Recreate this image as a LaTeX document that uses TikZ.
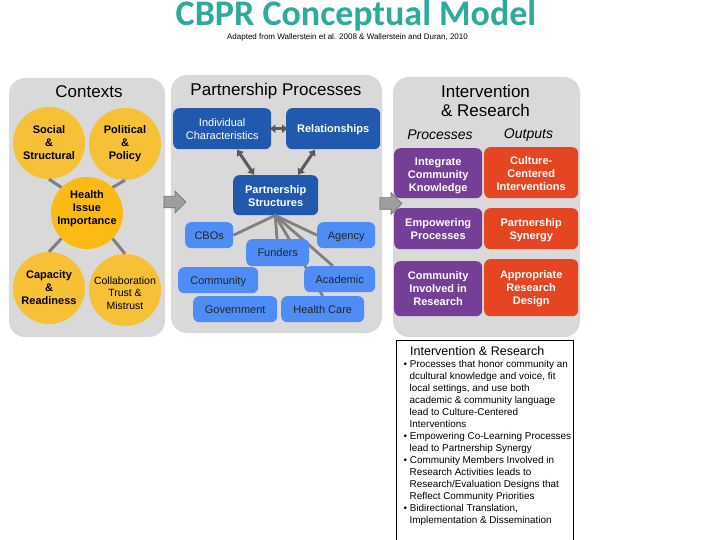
\documentclass[tikz,border=0pt]{standalone}
\usepackage{fontspec}
\setmainfont{Liberation Sans}
\newfontfamily\titlefont{Carlito}
\usetikzlibrary{calc,shapes.arrows,arrows.meta}
\definecolor{panelgrey}{HTML}{D9D9D9}
\definecolor{ctxyellow}{HTML}{F6C136}
\definecolor{issueyellow}{HTML}{FBBB14}
\definecolor{darkblue}{HTML}{2159AE}
\definecolor{lightblue}{HTML}{4D8DF5}
\definecolor{purplebox}{HTML}{753F97}
\definecolor{orangebox}{HTML}{E64522}
\definecolor{titleteal}{HTML}{2CAB9C}
\definecolor{linkgrey}{HTML}{808080}
\newcommand{\pushdown}[1]{\rule{0pt}{#1}}
\tikzset{
  panel/.style={fill=panelgrey,rounded corners=16pt},
  head/.style={font=\fontsize{17}{19}\selectfont,align=center,inner sep=0pt},
  circ/.style={circle,fill=ctxyellow,minimum size=72pt,inner sep=0pt,align=center,
    font=\fontsize{11}{13}\selectfont\bfseries},
  box/.style={rounded corners=6pt,inner sep=0pt,align=center,anchor=north west,
    font=\fontsize{11}{13}\selectfont},
  boldbox/.style={box,font=\fontsize{11}{13}\selectfont\bfseries,text=white},
  dark/.style={box,fill=darkblue,text=white},
  light/.style={box,fill=lightblue,text=black!85,text height=9.5pt,text depth=1pt},
  purp/.style={boldbox,fill=purplebox,minimum width=88pt},
  oran/.style={boldbox,fill=orangebox,minimum width=94pt},
  link/.style={draw=linkgrey,line width=3pt},
  fan/.style={draw=linkgrey,line width=2.8pt},
  both/.style={draw=black!65,line width=3pt,{Latex[length=6pt,width=9.5pt]}-{Latex[length=6pt,width=9.5pt]}},
  blockarrow/.style={single arrow,draw=black!55,fill=black!38,line width=.7pt,
    minimum height=22pt,inner xsep=0pt,inner ysep=5.5pt,single arrow head extend=5pt},
  cols/.style={font=\fontsize{14}{16}\selectfont\itshape,inner sep=0pt},
}
\begin{document}
\begin{tikzpicture}[x=1pt,y=-1pt]
\useasboundingbox (0,0) rectangle (720,540);
\fill[white] (0,0) rectangle (720,540);

% title
\node[font=\titlefont\fontsize{36}{36}\selectfont\bfseries,text=titleteal,inner sep=0pt,anchor=base,text depth=0pt] (title) at (356,26) {CBPR Conceptual Model};
\node[font=\fontsize{8}{9}\selectfont,inner sep=0pt] (sub) at (347.5,37.5) {Adapted from Wallerstein et al. 2008 \& Wallerstein and Duran, 2010};

% panels
\fill[panel] (9,78) rectangle (165,337);
\fill[panel] (171,75) rectangle (382,333);
\fill[panel] (393,77) rectangle (580,337);

% contexts
\node[head] (ctx) at (89,92) {Contexts};
\node[circ] (social) at (49,143) {Social\\\&\\Structural};
\node[circ] (political) at (125,144) {Political\\\&\\Policy};
\node[circ,fill=issueyellow] (health) at (87,213) {};
\node[inner sep=0pt,align=center,font=\fontsize{11}{13}\selectfont\bfseries] (healthtxt) at (87,208.5) {Health\\Issue\\Importance};
\node[circ] (capacity) at (49,288) {Capacity\\\&\\Readiness};
\node[circ] (collab) at (125,290) {};
\node[inner sep=0pt,align=center,font=\fontsize{10.5}{12.5}\selectfont] (collabtxt) at (125,293) {Collaboration\\Trust \&\\Mistrust};
\draw[link] (social.270) -- (health.135);
\draw[link] (political.270) -- (health.45);
\draw[link] (health.225) -- (capacity.90);
\draw[link] (health.315) -- (collab.90);

% partnership boxes
\node[head] (pp) at (276,91) {Partnership Processes};
\node[dark,minimum width=98pt,minimum height=41pt] (indiv) at (173,108) {Individual\\Characteristics};
\node[dark,minimum width=94pt,minimum height=41pt,font=\fontsize{11}{13}\selectfont\bfseries] (rel) at (286,108) {\pushdown{10pt}Relationships};
\node[dark,minimum width=85pt,minimum height=40pt,font=\fontsize{11}{13}\selectfont\bfseries] (struct) at (233,175) {\pushdown{10pt}Partnership\\Structures};
\coordinate (hub) at ($(struct.south)+(-.5,0)$);
\node[light,minimum width=48pt,minimum height=26pt] (cbos) at (185,222) {CBOs};
\node[light,minimum width=58pt,minimum height=26pt] (agency) at (317,222) {Agency};
\node[light,minimum width=80pt,minimum height=26pt] (community) at (178,267) {Community};
\node[light,minimum width=84pt,minimum height=26pt] (gov) at (193,296) {Government};
\node[light,minimum width=83pt,minimum height=26pt] (hc) at (281,296) {Health Care};
\coordinate (funtop) at (277,239);
\coordinate (acadtop) at (333,266);
\draw[fan] (hub) -- (cbos.east);
\draw[fan] (hub) -- (agency.west);
\draw[fan] (hub) -- (hc.north);
\draw[fan] (hub) -- (acadtop);
\draw[fan] (hub) -- (funtop);
\node[light,minimum width=63pt,minimum height=27pt] (funders) at (246,239) {Funders};
\node[light,minimum width=71pt,minimum height=26pt] (academic) at (304,266) {Academic};
\draw[both,shorten <=-2pt,shorten >=-2pt] (indiv.east) -- (rel.west);
\draw[both] ($(indiv.south west)!.65!(indiv.south east)$) -- ($(struct.north west)!.25!(struct.north east)$);
\draw[both] ($(rel.south west)!.31!(rel.south east)$) -- ($(struct.north west)!.76!(struct.north east)$);

% intervention and research
\node[head] (ir) at (485.5,100.5) {Intervention\\\& Research};
\node[cols] (proc) at (440,134.5) {Processes};
\node[cols] (out) at (528.5,135) {Outputs};
\node[purp,minimum height=50pt] (p1) at (394,148) {\pushdown{12pt}Integrate\\Community\\Knowledge};
\node[purp,minimum height=41pt] (p2) at (394,208) {Empowering\\Processes};
\node[purp,minimum height=55pt] (p3) at (394,261) {Community\\Involved in\\Research};
\node[oran,minimum height=51pt] (o1) at (484,147) {\pushdown{10pt}Culture-\\Centered\\Interventions};
\node[oran,minimum height=41pt] (o2) at (484,208) {\pushdown{10pt}Partnership\\Synergy};
\node[oran,minimum height=57pt] (o3) at (484,259) {\pushdown{10pt}Appropriate\\Research\\Design};

% arrows between panels
\node[blockarrow] (a1) at (172,202) {};
\node[blockarrow] (a2) at (388,203.5) {};

% notes box
\draw[black,line width=.7pt] (396,540) -- (396,340) -- (573,340) -- (573,540);
\node[font=\fontsize{12.5}{14}\selectfont,inner sep=0pt,anchor=west] (nhead) at (410,351) {Intervention \& Research};
\node[font=\fontsize{9.9}{12}\selectfont,inner sep=0pt,anchor=north west,align=left] (notes) at (403.5,360.5) {%
\textbullet\ Processes that honor community an\\
\hspace*{6pt}dcultural knowledge and voice, fit\\
\hspace*{6pt}local settings, and use both\\
\hspace*{6pt}academic \& community language\\
\hspace*{6pt}lead to Culture-Centered\\
\hspace*{6pt}Interventions\\
\textbullet\ Empowering Co-Learning Processes\\
\hspace*{6pt}lead to Partnership Synergy\\
\textbullet\ Community Members Involved in\\
\hspace*{6pt}Research Activities leads to\\
\hspace*{6pt}Research/Evaluation Designs that\\
\hspace*{6pt}Reflect Community Priorities\\
\textbullet\ Bidirectional Translation,\\
\hspace*{6pt}Implementation \& Dissemination};
\end{tikzpicture}
\end{document}
